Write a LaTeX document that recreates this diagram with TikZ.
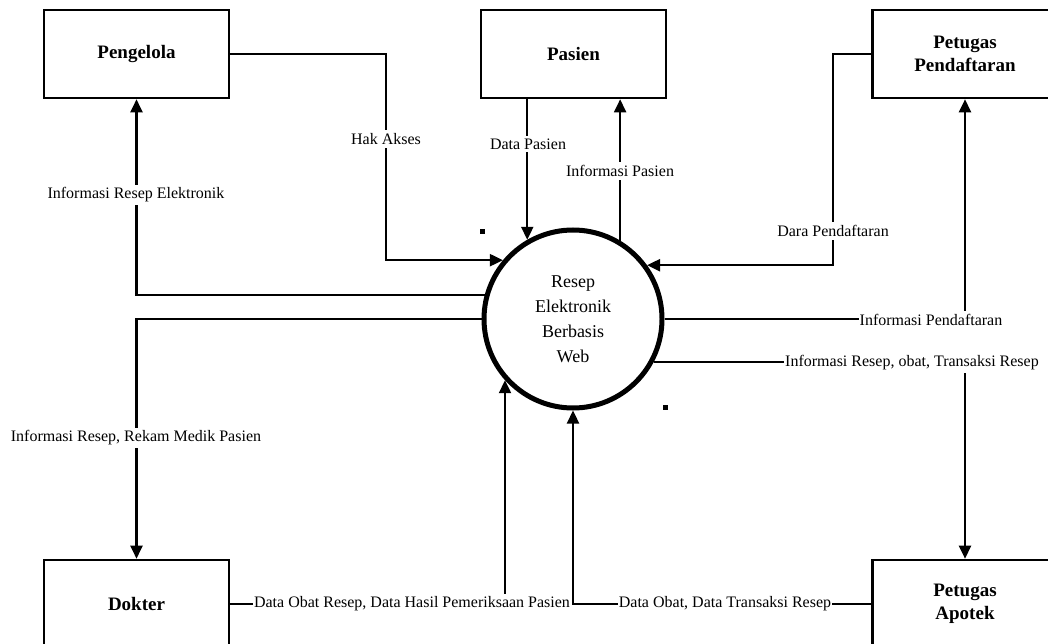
\documentclass[tikz,border=0pt]{standalone}
\usepackage{fontspec}
\setmainfont{Liberation Serif}
\usetikzlibrary{arrows.meta}
\begin{document}
\begin{tikzpicture}[x=1pt,y=-1pt,
  ent/.style={draw, line width=2.6pt, minimum width=185pt, minimum height=88pt,
    font=\fontsize{19}{23}\selectfont\bfseries, align=center, inner sep=0pt},
  proc/.style={draw, circle, line width=5pt, minimum size=178pt, inner sep=0pt,
    align=center, font=\fontsize{18}{25}\selectfont},
  flow/.style={line width=2.3pt, -{Triangle[length=13pt,width=12pt]}},
  lbl/.style={fill=white, inner xsep=1pt, inner ysep=3pt, font=\fontsize{16}{19}\selectfont}]
\useasboundingbox (0,0) rectangle (1048,644);
\clip (0,0) rectangle (1048,644);
\fill[white] (0,0) rectangle (1048,644);

% entities
\node[ent] (pg)  at (136.5,54)  {Pengelola};
\node[ent] (pas) at (573.5,54)  {Pasien};
\node[ent] (pp)  at (965,54)    {Petugas\\Pendaftaran};
\node[ent] (dok) at (136.5,604) {Dokter};
\node[ent] (pa)  at (965,604)   {Petugas\\Apotek};

% process
\node[proc] (c) at (573,319) {Resep\\Elektronik\\Berbasis\\Web};

\coordinate (x1) at (386,0);
\coordinate (x2) at (833,0);

% flows
\draw[flow] (pg.east) -| (x1 |- c.140) -- (c.140);
\node[lbl] (l1) at (386,139) {Hak Akses};

\draw[flow] (c.165) -| (pg.south);
\node[lbl] (l2) at (136,195) {Informasi Resep Elektronik};

\draw[flow] (c.120 |- pas.south) -- (c.120);
\node[lbl] (l3) at (528,144) {Data Pasien};

\draw[flow] (c.59) -- (c.59 |- pas.south);
\node[lbl] (l4) at (620,171) {Informasi Pasien};

\draw[flow] (pp.west) -| (x2 |- c.36) -- (c.36);
\node[lbl] (l5) at (833,231) {Dara Pendaftaran};

\draw[flow] (c.west) -| (dok.north);
\node[lbl] (l6) at (136,438) {Informasi Resep, Rekam Medik Pasien};

\draw[flow] (c.east) -| (pp.south);
\node[lbl] (l7) at (931,320) {Informasi Pendaftaran};

\draw[flow] (c.-28) -| (pa.north);
\node[lbl] (l8) at (912,363) {Informasi Resep, obat, Transaksi Resep};

\draw[flow] (dok.east) -| (c.222);
\node[lbl] (l9) at (412,604) {Data Obat Resep, Data Hasil Pemeriksaan Pasien};

\draw[flow] (pa.west) -| (c.south);
\node[lbl] (l10) at (725,604) {Data Obat, Data Transaksi Resep};

% stray dots
\fill (480,229) rectangle (485,234);
\fill (663,405) rectangle (668,410);
\end{tikzpicture}
\end{document}
